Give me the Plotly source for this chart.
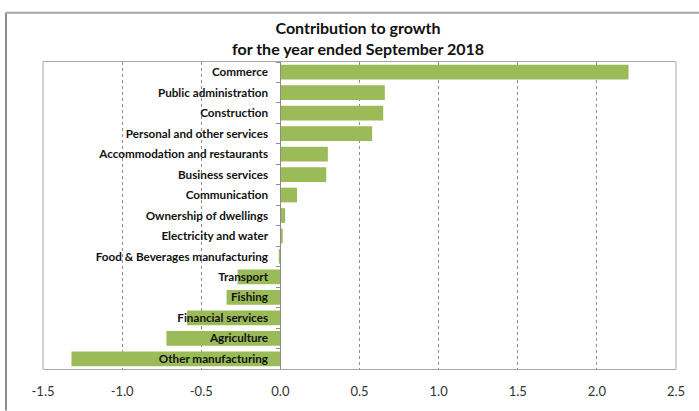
import plotly.graph_objects as go

categories = [
    "Commerce", "Public administration", "Construction", "Personal and other services",
    "Accommodation and restaurants", "Business services", "Communication",
    "Ownership of dwellings", "Electricity and water", "Food & Beverages manufacturing",
    "Transport", "Fishing", "Financial services", "Agriculture", "Other manufacturing",
]
values = [2.20, 0.66, 0.65, 0.58, 0.30, 0.29, 0.105, 0.03, 0.015, -0.01,
          -0.27, -0.34, -0.59, -0.72, -1.32]
x_ticks = [-1.5, -1.0, -0.5, 0.0, 0.5, 1.0, 1.5, 2.0, 2.5]
x_tick_text = ["-1.5", "-1.0", "-0.5", "0.0", "0.5", "1.0", "1.5", "2.0", "2.5"]

W, H = 699, 411
L, R, T, B = 43, 676, 62, 373

fig = go.Figure(go.Bar(
    x=values, y=categories, orientation="h",
    marker=dict(color="#9BBB59", line=dict(width=0)),
    width=0.72,
))

def px_x(px):
    return (px - L) / (R - L)

def px_y(py):
    return (B - py) / (B - T)

fig.update_layout(
    width=W, height=H,
    margin=dict(l=L, r=W - R, t=T, b=H - B, pad=0),
    paper_bgcolor="white", plot_bgcolor="white",
    showlegend=False,
    font=dict(family="Lato, Open Sans, sans-serif", color="#222"),
    title=dict(
        text="Contribution to growth<br>for the year ended September 2018",
        x=px_x(358), xref="paper", xanchor="center",
        y=1 - 34 / H, yanchor="middle",
        font=dict(size=16, family="Lato, sans-serif", color="#111", weight="bold"),
    ),
    xaxis=dict(
        range=[-1.5, 2.5], tickvals=x_ticks, ticktext=x_tick_text,
        showgrid=True, gridcolor="#8c8c8c", griddash="dot", gridwidth=1,
        zeroline=True, zerolinecolor="#8c8c8c", zerolinewidth=1,
        showline=True, linecolor="#a6a6a6", linewidth=1, mirror=True,
        ticks="outside", ticklen=0, tickcolor="white",
        ticklabelstandoff=10,
        tickfont=dict(size=13, color="#333", family="Lato, sans-serif"),
        fixedrange=True,
    ),
    yaxis=dict(
        autorange="reversed", type="category",
        anchor="free", position=1.5 / 4.0,
        showline=True, linecolor="#8c8c8c", linewidth=1,
        ticks="outside", tickson="boundaries", ticklen=4, tickcolor="#8c8c8c",
        ticklabelstandoff=10,
        showgrid=False,
        tickfont=dict(size=11.7, color="#111", family="Lato, sans-serif", weight="bold"),
        fixedrange=True,
    ),
    bargap=0.22,
    shapes=[
        dict(type="line", xref="paper", yref="paper", x0=1, x1=1, y0=0, y1=1,
             line=dict(color="#a6a6a6", width=1)),
        dict(type="line", xref="paper", yref="paper", x0=0, x1=0, y0=0, y1=1,
             line=dict(color="#a6a6a6", width=1)),
        # outer chart frame (left and top edges visible)
        dict(type="line", xref="paper", yref="paper",
             x0=px_x(6), x1=px_x(6), y0=px_y(12), y1=px_y(415),
             line=dict(color="#8c8c8c", width=2)),
        dict(type="line", xref="paper", yref="paper",
             x0=px_x(6), x1=px_x(705), y0=px_y(12), y1=px_y(12),
             line=dict(color="#a6a6a6", width=2)),
    ],
)

fig.write_html("out.html")
